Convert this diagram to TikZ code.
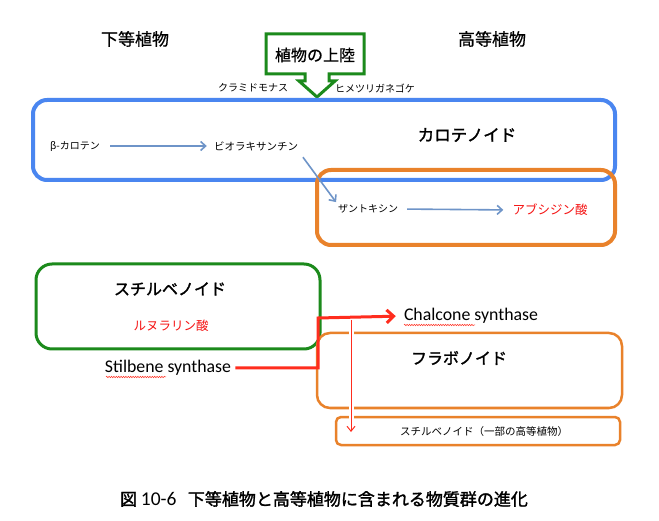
\documentclass[tikz,border=0pt]{standalone}
\usepackage{fontspec}
\setmainfont{Noto Sans CJK JP}
\newfontfamily\jpb[FakeBold=1.6]{Noto Sans CJK JP}
\newfontfamily\jpm[FakeBold=0.7]{Noto Sans CJK JP}
\newfontfamily\lat{Carlito}
\usetikzlibrary{arrows.meta,decorations.pathmorphing}
\definecolor{bluec}{RGB}{74,134,240}
\definecolor{orangec}{RGB}{233,130,43}
\definecolor{greenc}{RGB}{28,138,28}
\definecolor{arrowblue}{RGB}{110,148,200}
\definecolor{redc}{RGB}{255,45,30}
\definecolor{redtext}{RGB}{245,20,20}
\tikzset{
  txt/.style={inner sep=0pt, anchor=center},
  big/.style={txt, font=\jpm\fontsize{17}{20}\selectfont},
  small/.style={txt, font=\fontsize{10}{12}\selectfont},
  bluearrow/.style={draw=arrowblue, line width=1.6pt, -{Straight Barb[length=5pt,width=9pt,line width=1.6pt]}},
  redthick/.style={draw=redc, line width=3pt, -{Straight Barb[length=7pt,width=13pt,line width=3pt]}},
  redthin/.style={draw=redc, line width=1pt, -{Straight Barb[length=5pt,width=8pt,line width=1pt]}},
  squiggle/.style={draw=redc, line width=0.5pt, decorate, decoration={snake, amplitude=0.7pt, segment length=2.4pt}},
}
\begin{document}
\begin{tikzpicture}[x=1pt,y=-1pt]
\useasboundingbox (0,0) rectangle (659,521);
\fill[white] (0,0) rectangle (659,521);

% headings
\node[big] (lower) at (135,39) {下等植物};
\node[big] (higher) at (492,39) {高等植物};

% green callout
\draw[greenc, line width=3pt, line join=miter]
  (266,34) -- (364,34) -- (364,74) -- (329,74) -- (329,81) -- (335,81)
  -- (317,97) -- (299,81) -- (305,81) -- (305,74) -- (266,74) -- cycle;
\node[txt, font=\jpm\fontsize{16}{19}\selectfont] (landing) at (315,55) {植物の上陸};
\node[small] (chlamy) at (253,88) {クラミドモナス};
\node[small] (physco) at (375,88) {ヒメツリガネゴケ};

% carotenoid box
\draw[bluec, line width=4pt, rounded corners=14pt] (33,100) rectangle (615,180);
\draw[orangec, line width=4pt, rounded corners=14pt] (317,170) rectangle (615,245);
\node[txt, font=\jpb\fontsize{16.5}{20}\selectfont] (carot) at (467,135) {カロテノイド};
\node[small] (beta) at (75,146) {β-カロテン};
\node[small, font=\fontsize{10.5}{12}\selectfont] (vio) at (256,146) {ビオラキサンチン};
\node[small] (xan) at (368,209) {ザントキシン};
\node[txt, font=\fontsize{12.5}{15}\selectfont, text=redtext] (aba) at (550,210) {アブシジン酸};
\draw[bluearrow, shorten <=10pt, shorten >=7pt] (beta.east) -- (vio.west);
\draw[bluearrow, shorten <=8pt, shorten >=3pt] (vio.south east) -- (xan.north west);
\draw[bluearrow, shorten <=9pt, shorten >=9pt] (xan.east) -- (aba.west);

% stilbenoid box
\draw[greenc, line width=3pt, rounded corners=16pt] (36,264) rectangle (320,349);
\node[txt, font=\jpb\fontsize{16}{19}\selectfont] (stilb) at (170,289) {スチルベノイド};
\node[txt, font=\fontsize{12.5}{15}\selectfont, text=redtext] (lunu) at (171,326) {ルヌラリン酸};

% flavonoid boxes
\draw[orangec, line width=2.5pt, rounded corners=13pt] (317,333) rectangle (622,408);
\draw[orangec, line width=2.5pt, rounded corners=5pt] (336,417) rectangle (620,445);
\node[txt, font=\jpb\fontsize{16}{19}\selectfont] (flav) at (459,358) {フラボノイド};
\node[txt, font=\fontsize{10.5}{12}\selectfont] (stilb2) at (484,432) {スチルベノイド（一部の高等植物）};

% synthases
\node[txt, font=\lat\fontsize{17.8}{20}\selectfont] (stil) at (168,368) {Stilbene synthase};
\node[txt, font=\lat\fontsize{17.8}{20}\selectfont] (chal) at (471,316) {Chalcone synthase};
\draw[squiggle] (106,377) -- (166,377);
\draw[squiggle] (404,325) -- (475,325);

\coordinate (bend) at (318,318);
\draw[redthick, shorten >=8pt, shorten <=4pt] (stil.east) -| (bend) -- (chal.west);

\coordinate (tstart) at (351,320);
\coordinate (tend) at (351,432);
\draw[white, line width=5pt, shorten <=3pt] (tstart) -- (tend);
\draw[redthin] (tstart) -- (tend);

% caption
\node[txt, font=\jpb\fontsize{17}{20}\selectfont] (cap) at (324,499) {図 {\lat\fontsize{19.5}{20}\selectfont 10-6}\enspace\thinspace 下等植物と高等植物に含まれる物質群の進化};
\end{tikzpicture}
\end{document}
